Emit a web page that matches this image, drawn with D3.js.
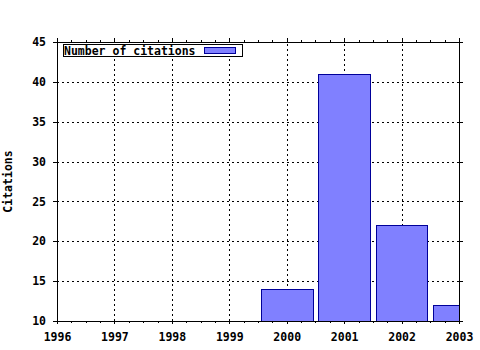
<!DOCTYPE html>
<html lang="en">
<head>
<meta charset="utf-8">
<title>Citations per year</title>
<script src="https://cdn.jsdelivr.net/npm/d3@7"></script>
<style>
  body { margin: 0; background: #fff; }
  svg text { font-family: "DejaVu Sans Mono", monospace; font-weight: bold; font-size: 11.5px; fill: #000; }
  .grid line { stroke: #000; stroke-dasharray: 2,3; shape-rendering: crispEdges; }
  .grid path { display: none; }
  .ax path { display: none; }
  .ax line { stroke: #000; shape-rendering: crispEdges; }
</style>
</head>
<body>
<script>
// data
var years = [2000, 2001, 2002, 2003];
var citations = [14, 41, 22, 12];
var seriesName = "Number of citations";
var xTicks = [1996, 1997, 1998, 1999, 2000, 2001, 2002, 2003];
var yTicks = [10, 15, 20, 25, 30, 35, 40, 45];
var yTitle = "Citations";

var w = 480, h = 350;
var pLeft = 57, pRight = 459, pTop = 42, pBottom = 321;

var svg = d3.select("body").append("svg")
    .attr("width", w)
    .attr("height", h);

var x = d3.scaleLinear().domain([1996, 2003]).range([pLeft, pRight]);
var y = d3.scaleLinear().domain([10, 45]).range([pBottom, pTop]);

svg.append("defs").append("clipPath").attr("id", "plot")
  .append("rect")
    .attr("x", pLeft).attr("y", pTop)
    .attr("width", pRight - pLeft).attr("height", pBottom - pTop);

// grid
svg.append("g").attr("class", "grid")
    .attr("transform", "translate(0," + pBottom + ")")
    .call(d3.axisBottom(x).tickValues(xTicks.slice(1, -1)).tickSize(-(pBottom - pTop)).tickFormat(""));
svg.append("g").attr("class", "grid")
    .attr("transform", "translate(" + pLeft + ",0)")
    .call(d3.axisLeft(y).tickValues(yTicks.slice(1, -1)).tickSize(-(pRight - pLeft)).tickFormat(""));

// bars
var bw = 0.9;
svg.append("g").attr("clip-path", "url(#plot)")
  .selectAll("rect")
  .data(years)
  .enter()
  .append("rect")
    .attr("x", function(d) { return Math.round(x(d - bw / 2)) + 0.5; })
    .attr("y", function(d, i) { return Math.round(y(citations[i])) + 0.5; })
    .attr("width", function(d) { return Math.round(x(d + bw / 2)) - Math.round(x(d - bw / 2)); })
    .attr("height", function(d, i) { return Math.round(y(10)) - Math.round(y(citations[i])); })
    .attr("fill", "#8080ff")
    .attr("stroke", "#000099")
    .attr("stroke-width", 1);

// minor ticks on x (quarters)
var minor = d3.range(1996, 2003.001, 0.25).filter(function(v) { return v % 1 !== 0; });
svg.append("g").attr("class", "ax")
    .attr("transform", "translate(0," + pBottom + ")")
    .call(d3.axisBottom(x).tickValues(minor).tickSize(2).tickFormat(""));
svg.append("g").attr("class", "ax")
    .attr("transform", "translate(0," + pTop + ")")
    .call(d3.axisTop(x).tickValues(minor).tickSize(2).tickFormat(""));

// major ticks + labels
svg.append("g").attr("class", "ax")
    .attr("transform", "translate(0," + pBottom + ")")
    .call(d3.axisBottom(x).tickValues(xTicks).tickSize(3).tickPadding(9).tickFormat(d3.format("d")));
svg.append("g").attr("class", "ax")
    .attr("transform", "translate(0," + pTop + ")")
    .call(d3.axisTop(x).tickValues(xTicks).tickSize(4).tickFormat(""));
svg.append("g").attr("class", "ax")
    .attr("transform", "translate(" + pLeft + ",0)")
    .call(d3.axisLeft(y).tickValues(yTicks).tickSize(4).tickPadding(7));
svg.append("g").attr("class", "ax")
    .attr("transform", "translate(" + pRight + ",0)")
    .call(d3.axisRight(y).tickValues(yTicks).tickSize(4).tickFormat(""));
svg.selectAll(".ax").attr("font-size", null).attr("font-family", null);

// border
svg.append("rect")
    .attr("x", pLeft + 0.5).attr("y", pTop + 0.5)
    .attr("width", pRight - pLeft).attr("height", pBottom - pTop)
    .attr("fill", "none")
    .attr("stroke", "#000")
    .attr("shape-rendering", "crispEdges");

// legend
var lg = svg.append("g");
lg.append("rect")
    .attr("x", 63.5).attr("y", 44.5)
    .attr("width", 179).attr("height", 12)
    .attr("fill", "#fff").attr("stroke", "#000");
lg.append("text")
    .attr("x", 64).attr("y", 54.5)
    .text(seriesName);
lg.append("rect")
    .attr("x", 204.5).attr("y", 47.5)
    .attr("width", 31).attr("height", 6)
    .attr("fill", "#8080ff").attr("stroke", "#000099");

// y title
svg.append("text")
    .attr("transform", "translate(12," + ((pTop + pBottom) / 2) + ") rotate(-90)")
    .attr("text-anchor", "middle")
    .text(yTitle);
</script>
</body>
</html>
